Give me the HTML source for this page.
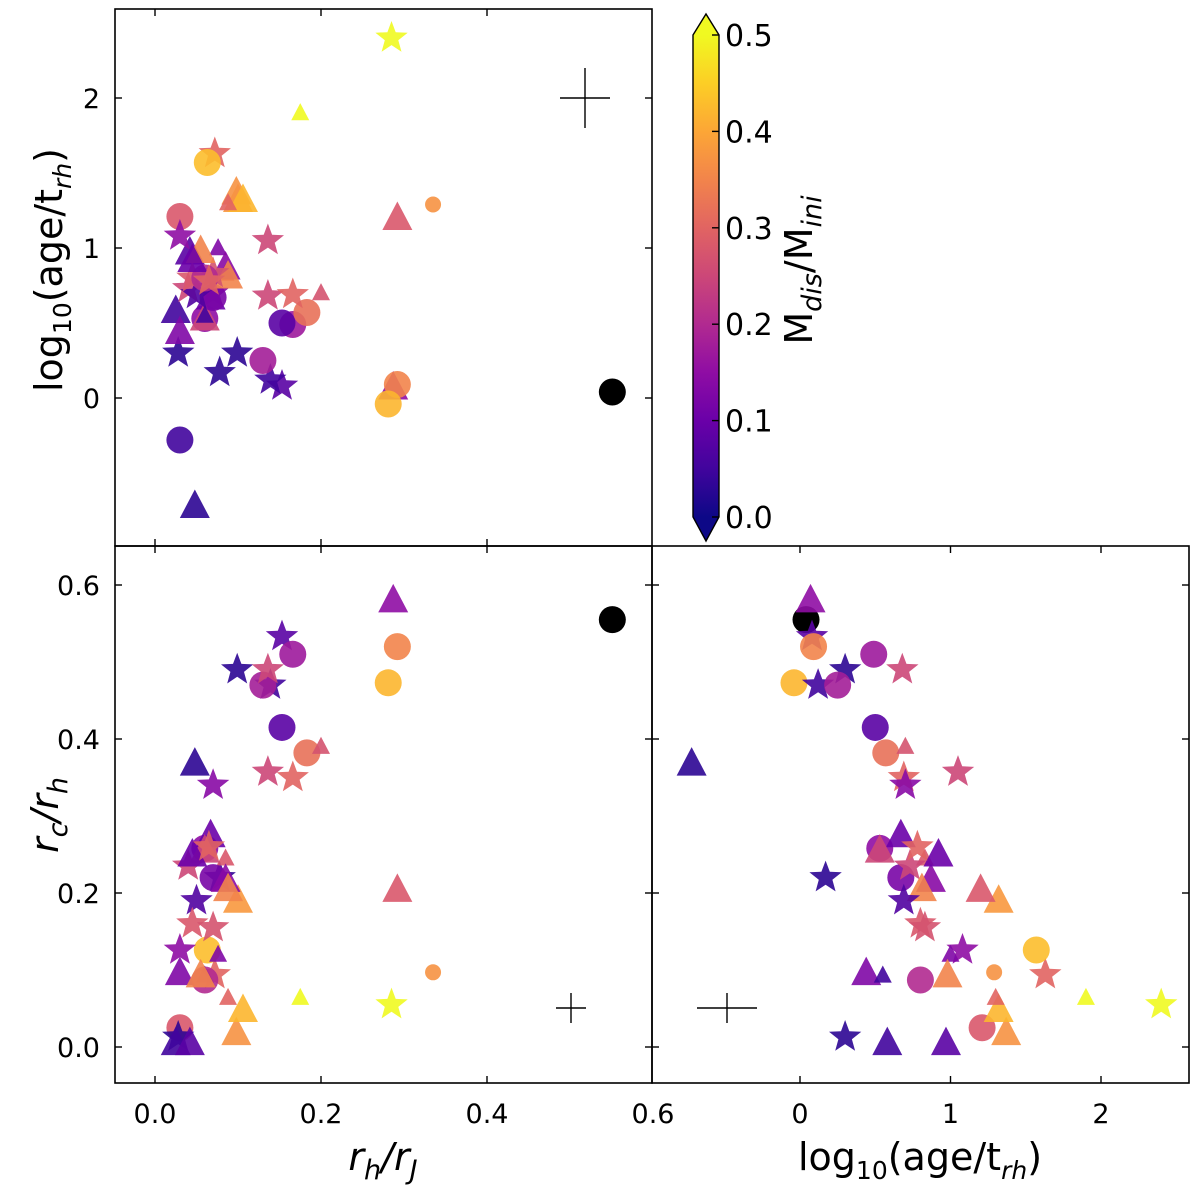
<!DOCTYPE html>
<html><head><meta charset="utf-8"><style>
html,body{margin:0;padding:0;background:#fff;}
svg{display:block;font-family:"DejaVu Sans","Liberation Sans",sans-serif;}
</style></head><body>
<svg id="chart" width="1200" height="1188" viewBox="0 0 1200 1188" xmlns="http://www.w3.org/2000/svg">
<defs>
<clipPath id="clipTL"><rect x="115" y="9" width="537" height="537"/></clipPath>
<clipPath id="clipBL"><rect x="115" y="546" width="537" height="537"/></clipPath>
<clipPath id="clipBR"><rect x="652" y="546" width="537" height="537"/></clipPath>
<linearGradient id="plasma" x1="0" y1="1" x2="0" y2="0">
<stop offset="0" stop-color="#0d0887"/><stop offset="0.1" stop-color="#41049d"/>
<stop offset="0.2" stop-color="#6a00a8"/><stop offset="0.3" stop-color="#8f0da4"/>
<stop offset="0.4" stop-color="#b12a90"/><stop offset="0.5" stop-color="#cc4778"/>
<stop offset="0.6" stop-color="#e16462"/><stop offset="0.7" stop-color="#f2844b"/>
<stop offset="0.8" stop-color="#fca636"/><stop offset="0.9" stop-color="#fcce25"/>
<stop offset="1" stop-color="#f0f921"/>
</linearGradient>
</defs>
<g id="marks"></g>
<g id="axes"></g>
</svg>
<script>
const rhrJ   = [0.551,0.287,0.153,0.292,0.281,0.139,0.099,0.13,0.166,0.136,0.153,0.183,0.2,0.166,0.136,0.07,0.048,0.078,0.285,0.175,0.072,0.063,0.1,0.292,0.098,0.03,0.106,0.088,0.335,0.03,0.028,0.025,0.042,0.03,0.076,0.06,0.067,0.06,0.085,0.07,0.04,0.085,0.088,0.05,0.045,0.07,0.03,0.06,0.06,0.055,0.045,0.065];
const logAge = [0.04,0.07,0.08,0.09,-0.04,0.12,0.3,0.25,0.49,0.68,0.5,0.57,0.7,0.69,1.05,0.7,-0.72,0.17,2.4,1.9,1.63,1.57,1.32,1.2,1.37,1.21,1.32,1.3,1.29,-0.28,0.3,0.58,0.97,1.08,1.0,0.53,0.67,0.53,0.83,0.67,0.73,0.87,0.81,0.69,0.8,0.83,0.44,0.55,0.8,0.98,0.92,0.78];
const rcrh   = [0.555,0.58,0.533,0.52,0.473,0.47,0.49,0.47,0.51,0.49,0.415,0.382,0.39,0.35,0.357,0.34,0.368,0.22,0.055,0.064,0.094,0.126,0.19,0.204,0.018,0.025,0.048,0.064,0.097,null,0.013,0.005,0.005,0.126,0.12,0.258,0.275,0.255,0.245,0.22,0.235,0.217,0.205,0.19,0.16,0.155,0.096,0.093,0.087,0.093,0.25,0.26];
const mdis   = [-1,0.15,0.08,0.35,0.42,0.05,0.03,0.18,0.17,0.25,0.08,0.32,0.27,0.3,0.25,0.14,0.03,0.03,0.5,0.5,0.3,0.43,0.38,0.28,0.37,0.28,0.42,0.3,0.37,0.05,0.03,0.05,0.08,0.15,0.13,0.15,0.1,0.25,0.28,0.12,0.25,0.14,0.35,0.07,0.28,0.27,0.13,0.05,0.2,0.35,0.1,0.3];
const marker = ["o","^","*","o","o","*","*","o","o","*","o","o","^","*","*","*","^","*","*","^","*","o","^","^","^","o","^","^","o","o","*","^","^","*","^","o","^","^","^","o","*","^","^","*","*","*","^","^","o","^","^","*"];
const big    = [1,1,1,1,1,1,1,1,1,1,1,1,0,1,1,1,1,1,1,0,1,1,1,1,1,1,1,0,0,1,1,1,1,1,0,1,1,1,0,1,1,1,1,1,1,1,1,0,1,1,1,1];
const xTicksR = [0.0,0.2,0.4,0.6];
const xTicksA = [0,1,2];
const yTicksA = [0,1,2];
const yTicksC = [0.0,0.2,0.4,0.6];
const cbTicks = [0.0,0.1,0.2,0.3,0.4,0.5];

const NS="http://www.w3.org/2000/svg";
const xR = v => 155 + v*830;
const yA = v => 398 - v*150;
const xA = v => 800 + v*150.5;
const yC = v => 1047 - v*770;
const cbY = v => 517 - v*964;

const stops=["#0d0887","#41049d","#6a00a8","#8f0da4","#b12a90","#cc4778","#e16462","#f2844b","#fca636","#fcce25","#f0f921"];
function hex(h){return [1,3,5].map(i=>parseInt(h.substr(i,2),16));}
function plasma(v){
  if(v<0) return "#000000";
  let t=Math.max(0,Math.min(1,v/0.5))*10, i=Math.min(9,Math.floor(t)), f=t-i;
  const a=hex(stops[i]), b=hex(stops[i+1]);
  return "rgb("+a.map((x,k)=>Math.round(x+(b[k]-x)*f)).join(",")+")";
}
function el(tag,attrs,parent){const e=document.createElementNS(NS,tag);for(const k in attrs)e.setAttribute(k,attrs[k]);parent.appendChild(e);return e;}

function markShape(g,m,b,cx,cy,col){
  let e;
  if(m==="o"){ e=el("circle",{cx:cx,cy:cy,r:b?13.5:8},g); }
  else if(m==="^"){ const s=b?15:9; e=el("polygon",{points:`${cx},${cy-s*1.1} ${cx+s},${cy+s*0.8} ${cx-s},${cy+s*0.8}`},g); }
  else { const R=b?17:10, r=R*0.42; let p=[]; for(let k=0;k<10;k++){const a=-Math.PI/2+k*Math.PI/5, rr=k%2?r:R; p.push((cx+rr*Math.cos(a)).toFixed(1)+","+(cy+rr*Math.sin(a)).toFixed(1));} e=el("polygon",{points:p.join(" ")},g); }
  e.setAttribute("fill",col);
  e.setAttribute("fill-opacity",col==="#000000"?"1":"0.9");
  return e;
}

const marks=document.getElementById("marks");
const panels=[
 {clip:"clipTL",name:"top-left",fx:i=>xR(rhrJ[i]),fy:i=>yA(logAge[i])},
 {clip:"clipBL",name:"bottom-left",fx:i=>xR(rhrJ[i]),fy:i=>rcrh[i]==null?null:yC(rcrh[i])},
 {clip:"clipBR",name:"bottom-right",fx:i=>xA(logAge[i]),fy:i=>rcrh[i]==null?null:yC(rcrh[i])}
];
panels.forEach(p=>{
  const g=el("g",{"clip-path":"url(#"+p.clip+")"},marks);
  
  
  for(let i=0;i<rhrJ.length;i++){
    const y=p.fy(i); if(y==null) continue;
    const e=markShape(g,marker[i],big[i],p.fx(i),y,plasma(mdis[i]));
    
    
  }
});

const ax=document.getElementById("axes");
function frame(x,y,w,h,name){const r=el("rect",{x:x,y:y,width:w,height:h,fill:"none",stroke:"#000","stroke-width":1.6},ax);}
function txt(x,y,s,attrs,name){const t=el("text",Object.assign({x:x,y:y,"font-size":27,fill:"#000"},attrs||{}),ax);t.innerHTML=s;return t;}
function line(x1,y1,x2,y2,w){el("line",{x1:x1,y1:y1,x2:x2,y2:y2,stroke:"#000","stroke-width":w||1.4},ax);}

frame(115,9,537,537,"top-left-frame");
frame(115,546,537,537,"bottom-left-frame");
frame(652,546,537,537,"bottom-right-frame");
const T=7;
xTicksR.forEach(v=>{const x=xR(v); if(x>116&&x<651){line(x,9,x,9+T);line(x,546,x,546-T);}});
yTicksA.forEach(v=>{const y=yA(v); line(115,y,115+T,y); line(652,y,652-T,y); txt(100,y+10,String(v),{"text-anchor":"end"},"y-tick-label");});
xTicksR.forEach(v=>{const x=xR(v); if(x<651){line(x,1083,x,1083-T);line(x,546,x,546+T);} txt(x,1123,v.toFixed(1),{"text-anchor":"middle"},"x-tick-label");});
yTicksC.forEach(v=>{const y=yC(v); line(115,y,115+T,y); line(652,y,652-T,y); txt(100,y+10,v.toFixed(1),{"text-anchor":"end"},"y-tick-label");});
xTicksA.forEach(v=>{const x=xA(v); line(x,1083,x,1083-T); line(x,546,x,546+T); txt(x,1123,String(v),{"text-anchor":"middle"},"x-tick-label");});
yTicksC.forEach(v=>{const y=yC(v); line(652,y,652+T,y); line(1189,y,1189-T,y);});

line(560,98,610,98);line(585,68,585,128);
line(556,1008,586,1008);line(571,993,571,1023);
line(697,1008,757,1008);line(727,993,727,1023);

txt(62,270,'log<tspan font-size="25" dy="9">10</tspan><tspan dy="-9">(age/t</tspan><tspan font-size="25" dy="9" font-style="italic">rh</tspan><tspan dy="-9">)</tspan>',{"font-size":38,"text-anchor":"middle",transform:"rotate(-90 62 270)"},"y-axis-title-age");
txt(58,815,'<tspan font-style="italic">r</tspan><tspan font-size="27" dy="9" font-style="italic">c</tspan><tspan dy="-9" font-style="italic">/r</tspan><tspan font-size="27" dy="9" font-style="italic">h</tspan>',{"font-size":38,"text-anchor":"middle",transform:"rotate(-90 58 815)"},"y-axis-title-rc");
txt(383,1170,'<tspan font-style="italic">r</tspan><tspan font-size="27" dy="9" font-style="italic">h</tspan><tspan dy="-9" font-style="italic">/r</tspan><tspan font-size="27" dy="9" font-style="italic">J</tspan>',{"font-size":38,"text-anchor":"middle"},"x-axis-title-rh");
txt(920,1170,'log<tspan font-size="25" dy="9">10</tspan><tspan dy="-9">(age/t</tspan><tspan font-size="25" dy="9" font-style="italic">rh</tspan><tspan dy="-9">)</tspan>',{"font-size":38,"text-anchor":"middle"},"x-axis-title-age");

const cb=el("g",{},ax);


el("rect",{x:693,y:cbY(0.5),width:26,height:cbY(0)-cbY(0.5),fill:"url(#plasma)"},cb);
el("polygon",{points:`693,${cbY(0.5)} 719,${cbY(0.5)} 706,14`,fill:"#f0f921"},cb);
el("polygon",{points:`693,${cbY(0)} 719,${cbY(0)} 706,541`,fill:"#0d0887"},cb);
el("polygon",{points:`693,${cbY(0.5)} 706,14 719,${cbY(0.5)} 719,${cbY(0)} 706,541 693,${cbY(0)}`,fill:"none",stroke:"#000","stroke-width":1.4},cb);
cbTicks.forEach(v=>{const y=cbY(v); line(712,y,719,y); txt(725,y+11,v.toFixed(1),{"font-size":30},"colorbar-tick-label");});
txt(812,270,'M<tspan font-size="27" dy="9" font-style="italic">dis</tspan><tspan dy="-9">/M</tspan><tspan font-size="27" dy="9" font-style="italic">ini</tspan>',{"font-size":38,"text-anchor":"middle",transform:"rotate(-90 812 270)"},"colorbar-title");
</script>
</body></html>
